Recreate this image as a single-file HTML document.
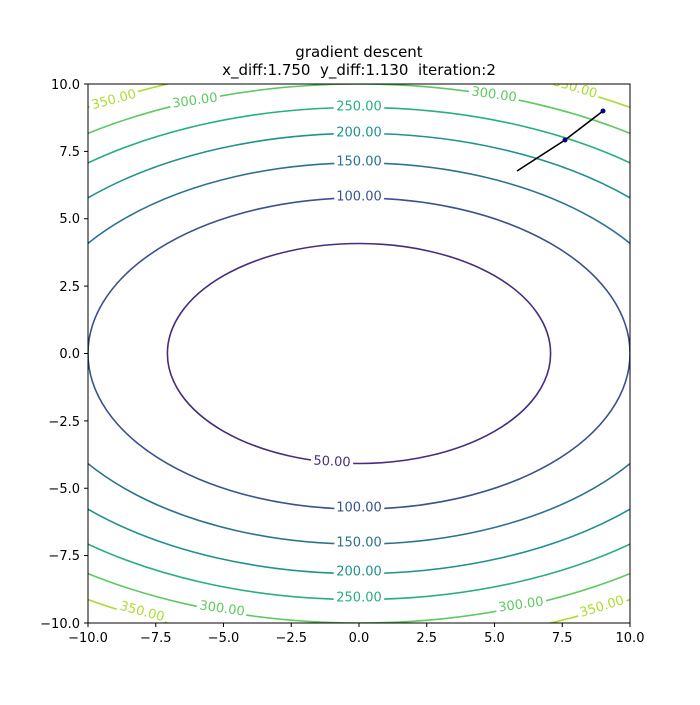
<!DOCTYPE html>
<html><head><meta charset="utf-8"><style>
html,body{margin:0;padding:0;background:#fff}
text{font-family:"DejaVu Sans","Liberation Sans",sans-serif}
.lbl{font-size:13px;text-anchor:middle;dominant-baseline:central;paint-order:stroke;stroke:#fff;stroke-width:7px}
.tk{font-size:13px;fill:#000}
</style></head><body>
<svg width="700" height="700" viewBox="0 0 700 700" xmlns="http://www.w3.org/2000/svg">
<defs><clipPath id="c"><rect x="88" y="84" width="542" height="539"/></clipPath></defs>
<text x="359" y="57" font-size="15" text-anchor="middle">gradient descent</text>
<text x="359" y="75" font-size="15" text-anchor="middle" style="white-space:pre" xml:space="preserve">x_diff:1.750  y_diff:1.130  iteration:2</text>
<g clip-path="url(#c)" fill="none" stroke-width="1.6">
<ellipse cx="359" cy="353.5" rx="191.6" ry="110" stroke="#472d7b"/>
<ellipse cx="359" cy="353.5" rx="271" ry="155.6" stroke="#3b528b"/>
<ellipse cx="359" cy="353.5" rx="331.9" ry="190.6" stroke="#2c728e"/>
<ellipse cx="359" cy="353.5" rx="383.3" ry="220.1" stroke="#21918c"/>
<ellipse cx="359" cy="353.5" rx="428.5" ry="246" stroke="#28ae80"/>
<ellipse cx="359" cy="353.5" rx="469.4" ry="269.5" stroke="#5ec962"/>
<ellipse cx="359" cy="353.5" rx="507" ry="291.1" stroke="#addc30"/>
<g>
<text class="lbl" x="114" y="100" fill="#addc30" transform="rotate(-15 114 100)">350.00</text>
<text class="lbl" x="195" y="101" fill="#5ec962" transform="rotate(-8 195 101)">300.00</text>
<text class="lbl" x="359" y="107" fill="#28ae80">250.00</text>
<text class="lbl" x="359" y="133" fill="#21918c">200.00</text>
<text class="lbl" x="359" y="162" fill="#2c728e">150.00</text>
<text class="lbl" x="359" y="197" fill="#3b528b">100.00</text>
<text class="lbl" x="494" y="95" fill="#5ec962" transform="rotate(8 494 95)">300.00</text>
<text class="lbl" x="575" y="88" fill="#addc30" transform="rotate(17 575 88)">350.00</text>
<text class="lbl" x="332" y="462" fill="#472d7b" transform="rotate(3 332 462)">50.00</text>
<text class="lbl" x="359" y="508" fill="#3b528b">100.00</text>
<text class="lbl" x="359" y="543" fill="#2c728e">150.00</text>
<text class="lbl" x="359" y="572" fill="#21918c">200.00</text>
<text class="lbl" x="359" y="598" fill="#28ae80">250.00</text>
<text class="lbl" x="222" y="609" fill="#5ec962" transform="rotate(8 222 609)">300.00</text>
<text class="lbl" x="142" y="612" fill="#addc30" transform="rotate(15 142 612)">350.00</text>
<text class="lbl" x="521" y="605" fill="#5ec962" transform="rotate(-8 521 605)">300.00</text>
<text class="lbl" x="602" y="607" fill="#addc30" transform="rotate(-17 602 607)">350.00</text>
</g>
<polyline points="603,111 565,140 517,171" stroke="#000" stroke-width="1.6"/>
<circle cx="603" cy="111" r="2.5" fill="#00008b" stroke="none"/>
<circle cx="565" cy="140" r="2.5" fill="#00008b" stroke="none"/>
</g>
<rect x="88" y="84" width="542" height="539" fill="none" stroke="#000" stroke-width="1"/>
<g stroke="#000" stroke-width="1">
<line x1="88" y1="623" x2="88" y2="627"/><line x1="155.75" y1="623" x2="155.75" y2="627"/><line x1="223.5" y1="623" x2="223.5" y2="627"/><line x1="291.25" y1="623" x2="291.25" y2="627"/><line x1="359" y1="623" x2="359" y2="627"/><line x1="426.75" y1="623" x2="426.75" y2="627"/><line x1="494.5" y1="623" x2="494.5" y2="627"/><line x1="562.25" y1="623" x2="562.25" y2="627"/><line x1="630" y1="623" x2="630" y2="627"/>
<line x1="84" y1="84" x2="88" y2="84"/><line x1="84" y1="151.4" x2="88" y2="151.4"/><line x1="84" y1="218.75" x2="88" y2="218.75"/><line x1="84" y1="286.1" x2="88" y2="286.1"/><line x1="84" y1="353.5" x2="88" y2="353.5"/><line x1="84" y1="420.9" x2="88" y2="420.9"/><line x1="84" y1="488.25" x2="88" y2="488.25"/><line x1="84" y1="555.6" x2="88" y2="555.6"/><line x1="84" y1="623" x2="88" y2="623"/>
</g>
<g class="tk" text-anchor="middle">
<text x="88" y="642">−10.0</text><text x="155.75" y="642">−7.5</text><text x="223.5" y="642">−5.0</text><text x="291.25" y="642">−2.5</text><text x="359" y="642">0.0</text><text x="426.75" y="642">2.5</text><text x="494.5" y="642">5.0</text><text x="562.25" y="642">7.5</text><text x="630" y="642">10.0</text>
</g>
<g class="tk" text-anchor="end">
<text x="80" y="89">10.0</text><text x="80" y="156">7.5</text><text x="80" y="223">5.0</text><text x="80" y="291">2.5</text><text x="80" y="358">0.0</text><text x="80" y="426">−2.5</text><text x="80" y="493">−5.0</text><text x="80" y="560">−7.5</text><text x="80" y="628">−10.0</text>
</g>
</svg>
</body></html>
